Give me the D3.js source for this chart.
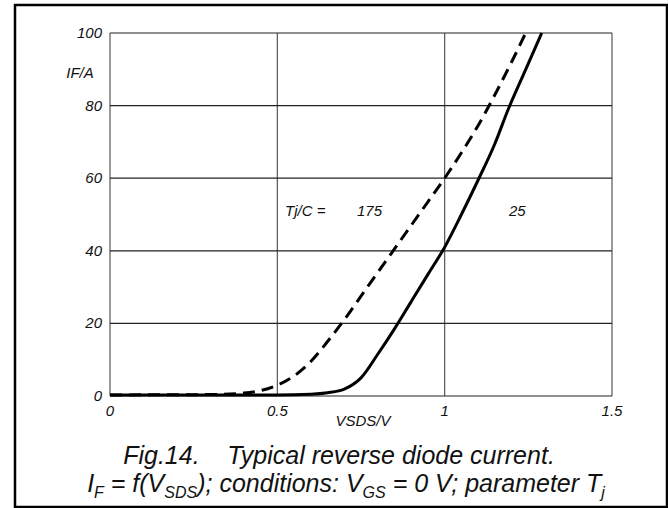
<!DOCTYPE html>
<html>
<head>
<meta charset="utf-8">
<script src="https://cdn.jsdelivr.net/npm/d3@7"></script>
<style>
  body { margin: 0; background: #fff; }
  text { font-family: "Liberation Sans", Arial, sans-serif; font-style: italic; fill: #111; }
</style>
</head>
<body>
<svg id="chart" width="668" height="508"></svg>
<script>
// data
var xTicks = [0, 0.5, 1, 1.5]
var yTicks = [0, 20, 40, 60, 80, 100]

var vsds175 = [0, 0.3, 0.4, 0.45, 0.5, 0.55, 0.6, 0.65, 0.7, 0.75, 0.8, 0.85, 0.9, 0.95, 1.0, 1.05, 1.1, 1.15, 1.2, 1.242]
var if175   = [0.3, 0.4, 0.8, 1.5, 3, 5.5, 9.5, 15, 21, 27.5, 34, 40.5, 47, 53.5, 60, 67, 74.5, 83, 92, 100]

var vsds25 = [0, 0.5, 0.6, 0.65, 0.7, 0.75, 0.8, 0.85, 0.9, 0.95, 1.0, 1.05, 1.1, 1.15, 1.19, 1.24, 1.29]
var if25   = [0.3, 0.3, 0.5, 0.9, 1.9, 5, 11.5, 18.5, 26, 33.5, 41, 50, 59.5, 69.5, 79, 89.5, 100]

var svg = d3.select("#chart")

var x = d3.scaleLinear().domain([0, 1.5]).range([110, 612])
var y = d3.scaleLinear().domain([0, 100]).range([396, 33])

// outer frame
svg.append("rect")
    .attr("x", 15).attr("y", 5)
    .attr("width", 652).attr("height", 502)
    .attr("fill", "none").attr("stroke", "#000").attr("stroke-width", 2.5)

// grid
var g = svg.append("g")
g.selectAll("line.v")
    .data(xTicks)
    .enter()
    .append("line")
    .attr("x1", function(d){return x(d)}).attr("x2", function(d){return x(d)})
    .attr("y1", y(0)).attr("y2", y(100))
    .attr("stroke", "#555").attr("stroke-width", 1.2)
g.selectAll("line.h")
    .data(yTicks)
    .enter()
    .append("line")
    .attr("x1", x(0)).attr("x2", x(1.5))
    .attr("y1", function(d){return y(d)}).attr("y2", function(d){return y(d)})
    .attr("stroke", "#222").attr("stroke-width", 1.2)

// tick labels
svg.selectAll("text.yt")
    .data(yTicks)
    .enter()
    .append("text")
    .attr("x", 102)
    .attr("y", function(d){return y(d) + 5})
    .attr("text-anchor", "end")
    .attr("font-size", "15px")
    .text(function(d){return d})
svg.selectAll("text.xt")
    .data(xTicks)
    .enter()
    .append("text")
    .attr("x", function(d){return x(d)})
    .attr("y", 416)
    .attr("text-anchor", "middle")
    .attr("font-size", "15px")
    .text(function(d){return d})

svg.append("text").attr("x", 80).attr("y", 78).attr("text-anchor", "middle")
    .attr("font-size", "15px").text("IF/A")
svg.append("text").attr("x", 363).attr("y", 426).attr("text-anchor", "middle")
    .attr("font-size", "15px").text("VSDS/V")

// curves
var line = d3.line()
    .x(function(d){return x(d[0])})
    .y(function(d){return y(d[1])})
    .curve(d3.curveMonotoneX)

svg.append("path")
    .datum(d3.zip(vsds175, if175))
    .attr("d", line)
    .attr("fill", "none").attr("stroke", "#000").attr("stroke-width", 3)
    .attr("stroke-dasharray", "12,7")
svg.append("path")
    .datum(d3.zip(vsds25, if25))
    .attr("d", line)
    .attr("fill", "none").attr("stroke", "#000").attr("stroke-width", 3)

// parameter labels
svg.append("text").attr("x", 285).attr("y", 216).attr("font-size", "15px").text("Tj/C =")
svg.append("text").attr("x", 357).attr("y", 216).attr("font-size", "15px").text("175")
svg.append("text").attr("x", 509).attr("y", 216).attr("font-size", "15px").text("25")

// caption
svg.append("text").attr("x", 339).attr("y", 464).attr("text-anchor", "middle")
    .attr("font-size", "25px").attr("xml:space", "preserve")
    .text("Fig.14.    Typical reverse diode current.")

var cap = svg.append("text").attr("x", 346).attr("y", 492).attr("text-anchor", "middle")
    .attr("font-size", "25px")
var parts = [
    ["I", 0], ["F", 1], [" = f(V", 0], ["SDS", 1], ["); conditions: V", 0],
    ["GS", 1], [" = 0 V; parameter T", 0], ["j", 1]
]
parts.forEach(function(p, i){
    var t = cap.append("tspan").text(p[0])
    if (p[1]) t.attr("font-size", "16px").attr("dy", 6)
    else if (i > 0) t.attr("dy", -6)
})
</script>
</body>
</html>
